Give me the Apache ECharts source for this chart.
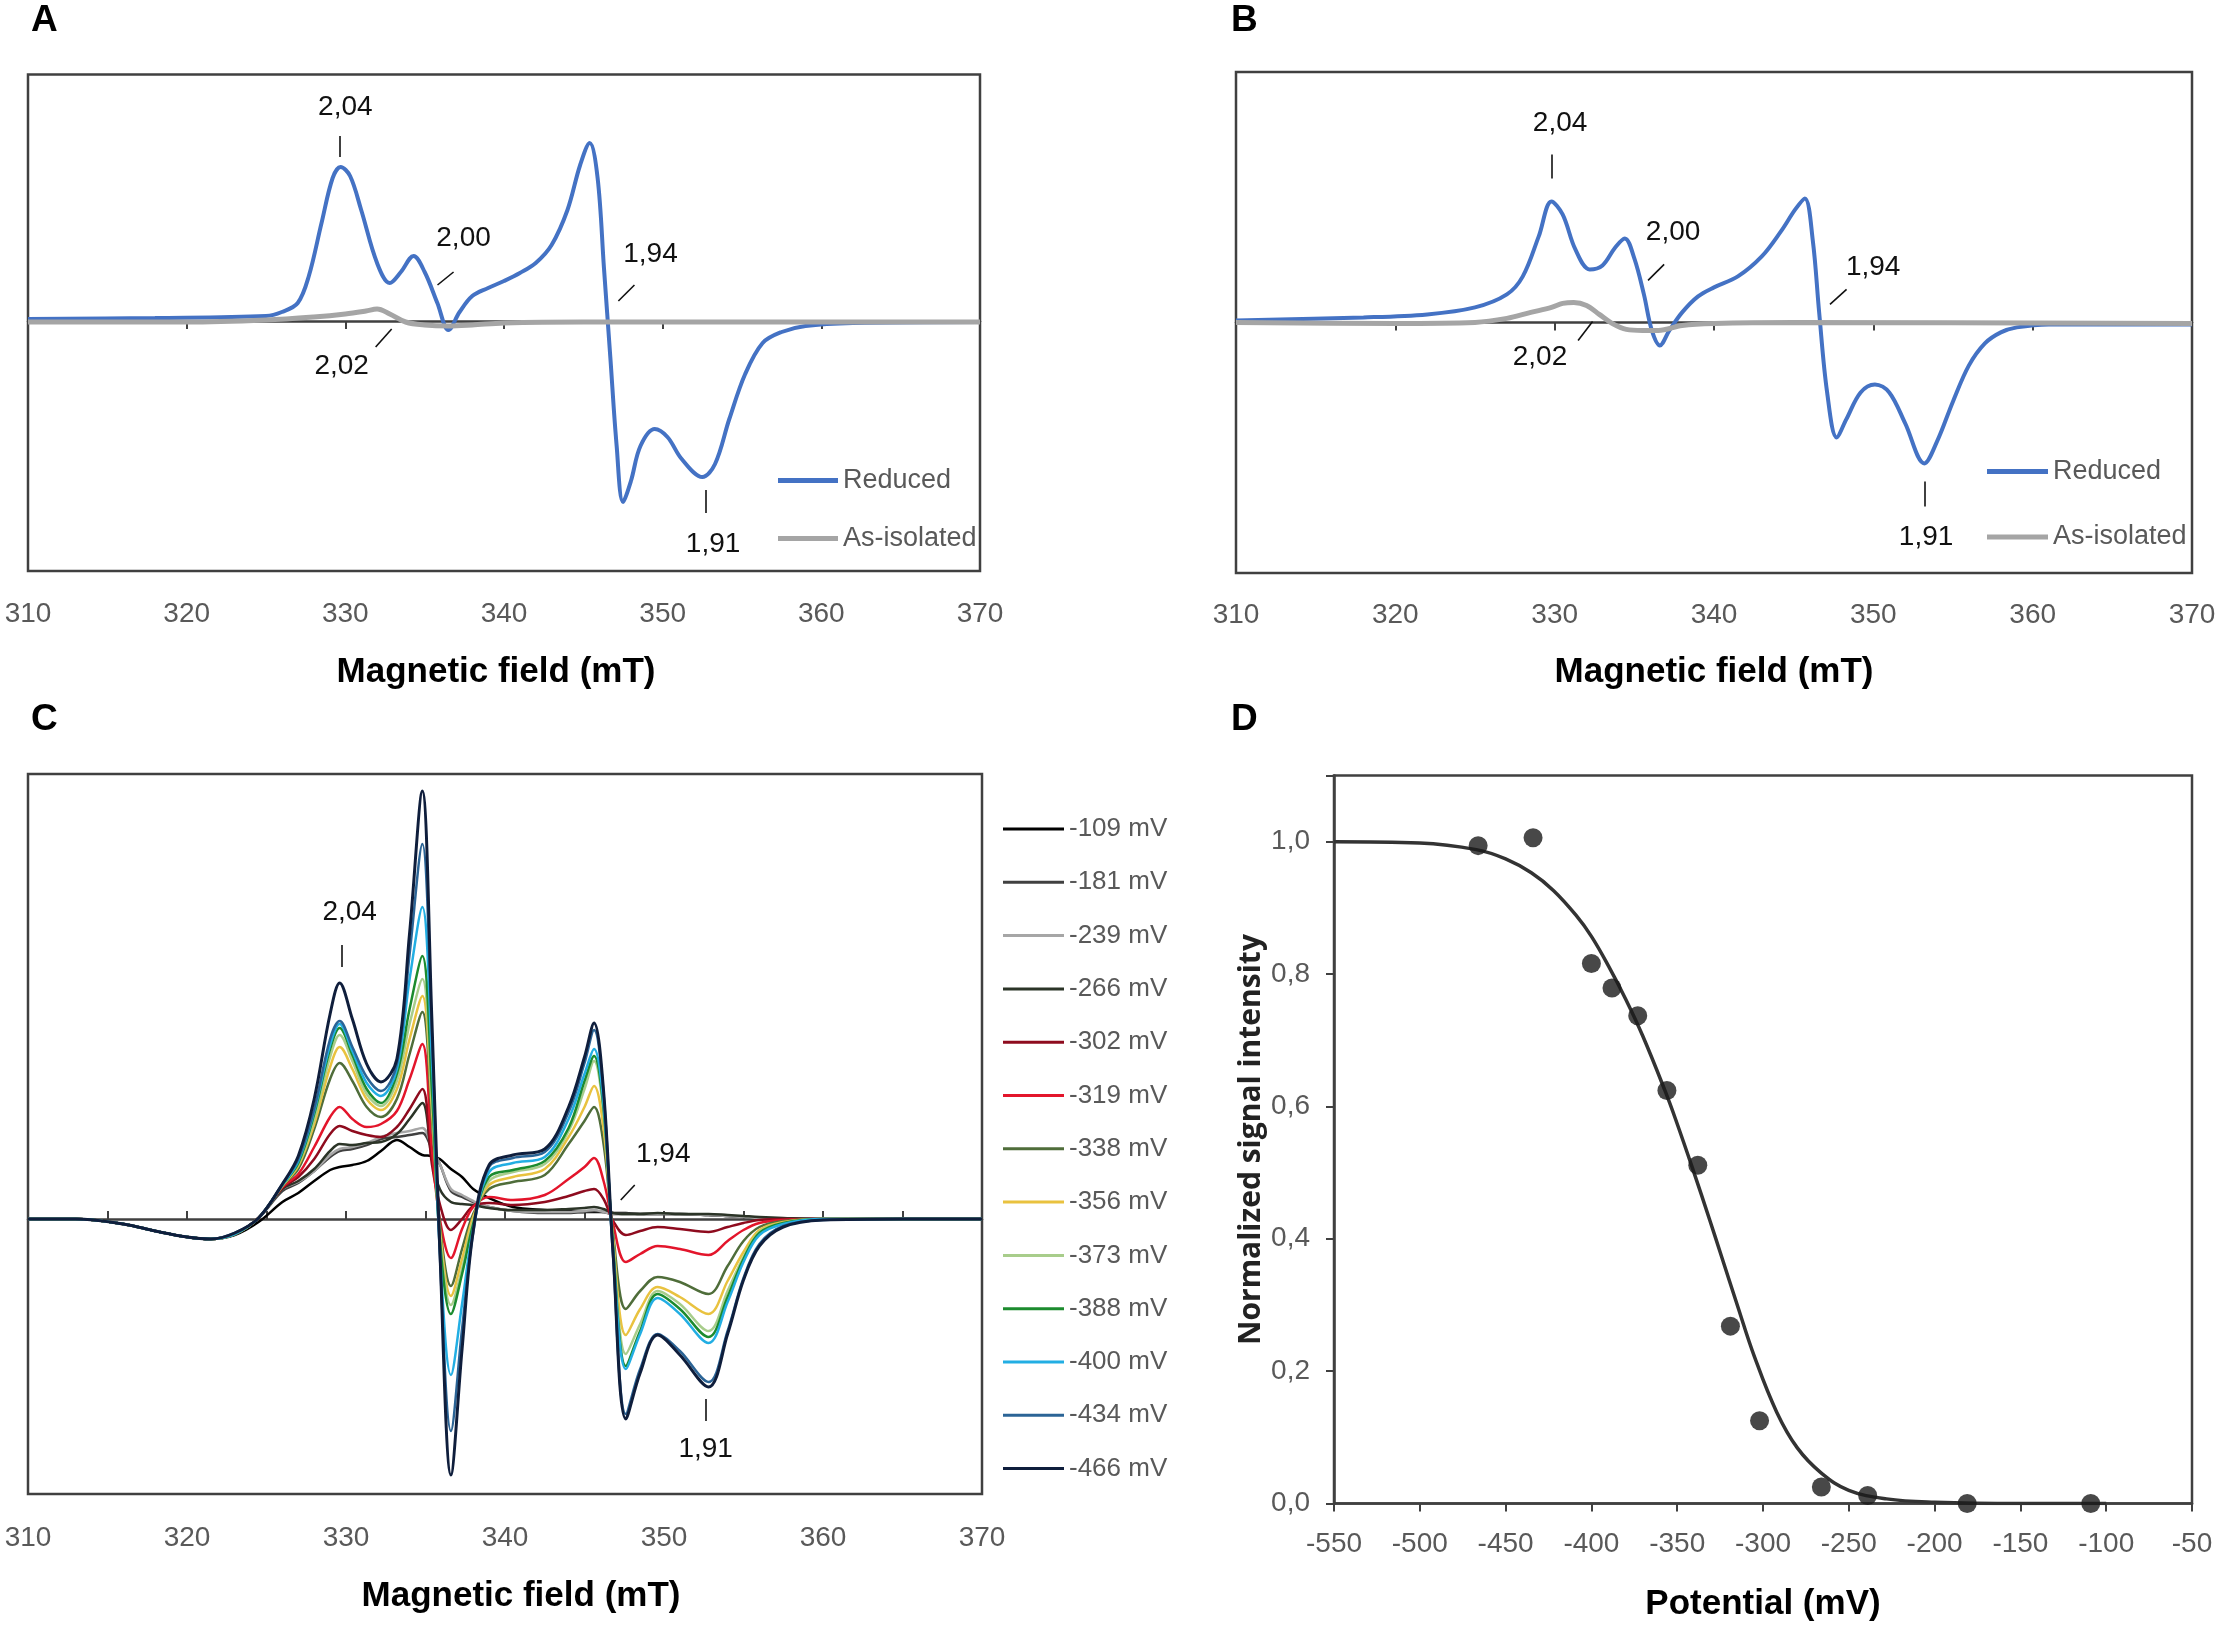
<!DOCTYPE html>
<html>
<head>
<meta charset="utf-8">
<title>EPR spectra and redox titration</title>
<script src="https://cdn.jsdelivr.net/npm/echarts@6.0.0/dist/echarts.min.js"></script>
<style>
  html, body { margin: 0; padding: 0; background: #ffffff; }
  #chart { width: 2226px; height: 1627px; }
</style>
</head>
<body>
<div id="chart"></div>
<script>
// ---------- panel A : spectra (mT, arbitrary units) ----------
var fieldA = [310, 318, 325, 326, 327, 327.7, 328.5, 329.2, 329.7, 330.3, 331, 332, 332.8, 333.5, 334.3, 335, 335.8, 336.5, 337.2, 338, 339, 340, 341, 342, 343, 344, 344.8, 345.4, 345.9, 346.3, 346.7, 347.1, 347.5, 348, 348.6, 349.5, 350.3, 351.2, 352.5, 353.3, 354.2, 355.2, 356.3, 357.5, 359, 362, 370];
var reducedA = [0.02, 0.03, 0.05, 0.09, 0.18, 0.45, 0.98, 1.43, 1.54, 1.45, 1.11, 0.58, 0.38, 0.49, 0.65, 0.49, 0.18, -0.09, 0.09, 0.25, 0.33, 0.40, 0.48, 0.58, 0.76, 1.11, 1.56, 1.78, 1.43, 0.53, -0.36, -1.25, -1.81, -1.60, -1.25, -1.08, -1.16, -1.38, -1.56, -1.43, -0.98, -0.53, -0.22, -0.11, -0.05, -0.02, -0.01];
var fieldAIso = [310, 320, 325, 328, 330, 331.3, 332, 332.8, 333.8, 335, 336.5, 338, 340, 345, 370];
var isolatedA = [-0.01, -0.01, 0.01, 0.04, 0.07, 0.10, 0.12, 0.07, -0.01, -0.04, -0.05, -0.04, -0.02, -0.01, -0.01];

// ---------- panel B ----------
var fieldB = [310, 318, 322, 325, 327, 328, 329, 329.8, 330.5, 331.3, 332.2, 333, 333.8, 334.4, 335, 335.6, 336.1, 336.6, 337.2, 338, 339, 340, 341.5, 343, 344.2, 345.1, 345.7, 346.2, 346.6, 347.1, 347.7, 348.3, 349.2, 350.1, 351, 352, 353.2, 354, 355, 356, 357, 358, 359, 361, 370];
var reducedB = [0.02, 0.05, 0.08, 0.15, 0.28, 0.46, 0.86, 1.21, 1.08, 0.73, 0.53, 0.57, 0.75, 0.84, 0.64, 0.28, -0.08, -0.23, -0.08, 0.10, 0.26, 0.35, 0.46, 0.66, 0.91, 1.13, 1.24, 0.82, 0.10, -0.70, -1.15, -0.97, -0.70, -0.62, -0.70, -1.01, -1.41, -1.19, -0.79, -0.43, -0.21, -0.10, -0.05, -0.02, -0.02];
var fieldBIso = [310, 320, 325, 327, 328.5, 329.8, 330.5, 331.2, 332, 332.8, 333.6, 334.5, 335.5, 336.5, 338, 340, 345, 370];
var isolatedB = [0, -0.01, 0, 0.04, 0.10, 0.15, 0.19, 0.20, 0.17, 0.08, -0.01, -0.07, -0.08, -0.08, -0.03, -0.01, 0, -0.01];

// ---------- panel C : spectra at each poised potential ----------
var fieldC = [310, 313, 316, 318, 320, 321.5, 323, 324.5, 326, 327, 328, 329, 329.6, 330.4, 331.3, 332.2, 333.2, 334, 334.8, 335.4, 335.9, 336.6, 337.3, 338, 339, 340.5, 342.5, 344, 345, 345.6, 346.2, 346.8, 347.6, 348.5, 349.6, 351, 352.8, 354, 355, 356, 357.5, 360, 365, 370];
var potentialLabels = ['-109 mV', '-181 mV', '-239 mV', '-266 mV', '-302 mV', '-319 mV', '-338 mV', '-356 mV', '-373 mV', '-388 mV', '-400 mV', '-434 mV', '-466 mV'];
var c109 = [0, 0, -0.05, -0.12, -0.18, -0.2, -0.16, -0.03, 0.17, 0.26, 0.38, 0.49, 0.52, 0.54, 0.58, 0.68, 0.79, 0.72, 0.64, 0.63, 0.60, 0.50, 0.42, 0.30, 0.21, 0.12, 0.09, 0.08, 0.07, 0.07, 0.07, 0.06, 0.06, 0.05, 0.05, 0.05, 0.04, 0.03, 0.02, 0.01, 0, 0, 0, 0];
var c181 = [0, 0, -0.05, -0.12, -0.18, -0.2, -0.15, 0.01, 0.28, 0.36, 0.48, 0.62, 0.68, 0.70, 0.74, 0.80, 0.82, 0.84, 0.86, 0.70, 0.55, 0.28, 0.22, 0.17, 0.12, 0.08, 0.06, 0.06, 0.07, 0.08, 0.07, 0.05, 0.05, 0.05, 0.05, 0.05, 0.04, 0.03, 0.02, 0.01, 0, 0, 0, 0];
var c239 = [0, 0, -0.05, -0.12, -0.18, -0.2, -0.15, 0.01, 0.30, 0.37, 0.48, 0.64, 0.70, 0.72, 0.76, 0.82, 0.86, 0.88, 0.91, 0.72, 0.55, 0.30, 0.24, 0.18, 0.12, 0.08, 0.07, 0.07, 0.08, 0.09, 0.07, 0.05, 0.05, 0.05, 0.05, 0.05, 0.04, 0.03, 0.02, 0.01, 0, 0, 0, 0];
var c266 = [0, 0, -0.05, -0.12, -0.18, -0.2, -0.15, 0.01, 0.30, 0.38, 0.50, 0.68, 0.75, 0.74, 0.76, 0.77, 0.85, 1.00, 1.16, 0.60, 0.30, 0.17, 0.15, 0.14, 0.11, 0.09, 0.09, 0.10, 0.11, 0.12, 0.10, 0.06, 0.05, 0.05, 0.06, 0.05, 0.05, 0.04, 0.03, 0.02, 0.01, 0, 0, 0];
var c302 = [0, 0, -0.05, -0.12, -0.18, -0.2, -0.15, 0.01, 0.31, 0.42, 0.60, 0.85, 0.93, 0.88, 0.84, 0.82, 0.92, 1.10, 1.30, 0.55, 0.15, -0.11, 0.00, 0.13, 0.16, 0.14, 0.17, 0.23, 0.28, 0.30, 0.20, -0.02, -0.16, -0.12, -0.08, -0.10, -0.13, -0.08, -0.04, -0.01, 0, 0, 0, 0];
var c319 = [0, 0, -0.05, -0.12, -0.18, -0.2, -0.15, 0.01, 0.32, 0.45, 0.72, 1.02, 1.12, 1.00, 0.92, 0.95, 1.08, 1.40, 1.75, 0.70, 0.00, -0.39, -0.10, 0.12, 0.22, 0.19, 0.24, 0.40, 0.52, 0.61, 0.38, -0.05, -0.43, -0.35, -0.27, -0.30, -0.36, -0.22, -0.11, -0.04, -0.01, 0, 0, 0];
var c338 = [0, 0, -0.05, -0.12, -0.18, -0.2, -0.15, 0.01, 0.33, 0.50, 0.90, 1.40, 1.56, 1.38, 1.12, 1.02, 1.20, 1.65, 2.07, 1.00, -0.05, -0.67, -0.30, 0.05, 0.30, 0.37, 0.44, 0.75, 0.98, 1.12, 0.75, -0.15, -0.90, -0.72, -0.58, -0.63, -0.75, -0.47, -0.22, -0.08, -0.02, 0, 0, 0];
var c356 = [0, 0, -0.05, -0.12, -0.18, -0.2, -0.15, 0.01, 0.33, 0.53, 0.95, 1.52, 1.72, 1.50, 1.20, 1.09, 1.30, 1.80, 2.23, 1.10, -0.10, -0.77, -0.40, 0.02, 0.34, 0.42, 0.50, 0.82, 1.12, 1.33, 0.90, -0.20, -1.16, -0.90, -0.68, -0.78, -0.95, -0.62, -0.33, -0.11, -0.03, 0, 0, 0];
var c373 = [0, 0, -0.05, -0.12, -0.18, -0.2, -0.15, 0.01, 0.34, 0.55, 1.00, 1.62, 1.84, 1.58, 1.25, 1.13, 1.38, 1.95, 2.40, 1.20, -0.15, -0.86, -0.50, -0.02, 0.38, 0.47, 0.55, 0.88, 1.30, 1.58, 1.05, -0.25, -1.35, -1.05, -0.72, -0.85, -1.12, -0.72, -0.38, -0.13, -0.04, 0, 0, 0];
var c388 = [0, 0, -0.05, -0.12, -0.18, -0.2, -0.15, 0.01, 0.34, 0.56, 1.05, 1.70, 1.91, 1.64, 1.30, 1.16, 1.45, 2.10, 2.63, 1.30, -0.20, -0.95, -0.55, -0.05, 0.42, 0.49, 0.58, 0.91, 1.38, 1.63, 1.10, -0.28, -1.47, -1.12, -0.75, -0.90, -1.18, -0.78, -0.40, -0.14, -0.04, 0, 0, 0];
var c400 = [0, 0, -0.05, -0.12, -0.18, -0.2, -0.15, 0.01, 0.34, 0.58, 1.08, 1.74, 1.95, 1.68, 1.36, 1.23, 1.50, 2.40, 3.12, 1.60, -0.30, -1.56, -0.85, -0.10, 0.47, 0.56, 0.62, 1.00, 1.45, 1.70, 1.15, -0.32, -1.50, -1.15, -0.79, -0.95, -1.24, -0.83, -0.43, -0.16, -0.05, 0, 0, 0];
var c434 = [0, 0, -0.05, -0.12, -0.18, -0.2, -0.14, 0.01, 0.35, 0.60, 1.10, 1.80, 1.98, 1.72, 1.42, 1.28, 1.55, 2.65, 3.75, 1.85, -0.35, -2.12, -1.10, -0.14, 0.52, 0.61, 0.67, 1.07, 1.56, 1.89, 1.25, -0.38, -1.95, -1.50, -1.15, -1.32, -1.63, -1.12, -0.59, -0.25, -0.07, -0.01, 0, 0];
var c466 = [0, 0, -0.05, -0.12, -0.18, -0.2, -0.14, 0.01, 0.35, 0.63, 1.20, 2.05, 2.36, 2.00, 1.55, 1.37, 1.60, 2.86, 4.28, 2.00, -0.30, -2.56, -1.30, -0.12, 0.54, 0.64, 0.70, 1.12, 1.62, 1.96, 1.28, -0.35, -2.00, -1.54, -1.16, -1.36, -1.68, -1.15, -0.61, -0.27, -0.08, -0.01, 0, 0];
var spectraC = [c109, c181, c239, c266, c302, c319, c338, c356, c373, c388, c400, c434, c466];

// ---------- panel D : redox titration ----------
var potentials = [-466, -434, -400, -388, -373, -356, -338, -319, -302, -266, -239, -181, -109];
var intensity = [0.994, 1.006, 0.816, 0.779, 0.737, 0.624, 0.511, 0.268, 0.125, 0.025, 0.012, 0.0, 0.0];
var fitPotential = [-550, -500, -467, -450, -435, -422, -409, -400, -390, -380, -370, -357, -351, -341, -331, -325, -315, -305, -292, -280, -266, -250, -228, -200, -150, -100];
var fitIntensity = [1.0, 0.998, 0.988, 0.974, 0.953, 0.926, 0.889, 0.857, 0.812, 0.762, 0.706, 0.623, 0.581, 0.506, 0.428, 0.380, 0.300, 0.222, 0.138, 0.084, 0.046, 0.020, 0.007, 0.002, 0.0, 0.0];

// g-value labels: text position and leader segment, in data units
var gLabelsA = [
    {text: '2,04', at: [330.0, 2.14], tick: [[329.66, 1.85], [329.66, 1.64]]},
    {text: '2,00', at: [337.45, 0.83], tick: [[336.82, 0.49], [335.81, 0.36]]},
    {text: '1,94', at: [349.23, 0.67], tick: [[348.22, 0.36], [347.21, 0.20]]},
    {text: '2,02', at: [329.77, -0.45], tick: [[332.92, -0.08], [331.91, -0.26]]},
    {text: '1,91', at: [353.18, -2.23], tick: [[352.7, -1.69], [352.7, -1.92]]}
];
var gLabelsB = [
    {text: '2,04', at: [330.34, 1.99], tick: [[329.84, 1.68], [329.84, 1.44]]},
    {text: '2,00', at: [337.43, 0.90], tick: [[336.87, 0.58], [335.86, 0.42]]},
    {text: '1,94', at: [349.99, 0.55], tick: [[348.32, 0.33], [347.28, 0.18]]},
    {text: '2,02', at: [329.08, -0.35], tick: [[332.38, 0.01], [331.47, -0.18]]},
    {text: '1,91', at: [353.31, -2.15], tick: [[353.25, -1.59], [353.25, -1.84]]}
];
var gLabelsC = [
    {text: '2,04', at: [330.23, 3.07], tick: [[329.76, 2.74], [329.76, 2.52]]},
    {text: '1,94', at: [349.95, 0.65], tick: [[348.16, 0.34], [347.28, 0.19]]},
    {text: '1,91', at: [352.62, -2.30], tick: [[352.62, -1.80], [352.62, -2.02]]}
];

var colorsC = ['#000000', '#404040', '#a6a6a6', '#2b3427', '#8e0b1e', '#e3152b', '#4f6d3a', '#e9c23f', '#a8cd8b', '#1c8b2e', '#22aee3', '#2b6496', '#0f1e3c'];

var SANS = "'Liberation Sans', Arial, sans-serif";
var AXIS_COLOR = '#404040';
var LABEL_COLOR = '#595959';

function pairs(xs, ys) {
    return xs.map(function (x, i) { return [x, ys[i]]; });
}

//标注 g 值：文字 + 引线
function gMarks(list) {
    return {
        markPoint: {
            silent: true,
            symbol: 'circle',
            symbolSize: 2,
            itemStyle: {color: 'rgba(0,0,0,0)'},
            label: {show: true, position: 'inside', formatter: '{b}', fontSize: 28, fontFamily: SANS, color: '#111111'},
            data: list.map(function (g) { return {name: g.text, coord: g.at}; })
        },
        markLine: {
            silent: true,
            symbol: ['none', 'none'],
            label: {show: false},
            lineStyle: {color: '#111111', width: 1.6, type: 'solid'},
            data: list.map(function (g) { return [{coord: g.tick[0]}, {coord: g.tick[1]}]; })
        }
    };
}

function fieldAxis(gridIndex, margin, gap, inside, step) {
    return {
        type: 'value', gridIndex: gridIndex, min: 310, max: 370, interval: step,
        name: 'Magnetic field (mT)', nameLocation: 'middle', nameGap: gap,
        nameTextStyle: {fontSize: 35, fontWeight: 'bold', fontFamily: SANS, color: '#000'},
        axisLine: {show: true, lineStyle: {color: AXIS_COLOR, width: 2.5}},
        axisTick: {show: true, inside: inside, length: 8, lineStyle: {color: AXIS_COLOR, width: 2}},
        axisLabel: {
            margin: margin, fontSize: 28, fontFamily: SANS, color: LABEL_COLOR,
            formatter: function (v) { return v % 10 === 0 ? String(v) : ''; }
        },
        splitLine: {show: false}
    };
}

function boxGrid(left, top, width, height) {
    return {left: left, top: top, width: width, height: height, show: true,
        borderColor: AXIS_COLOR, borderWidth: 2.5, backgroundColor: 'transparent'};
}

function panelTitle(text, left, top) {
    return {text: text, left: left, top: top, padding: 0,
        textStyle: {fontSize: 37, fontWeight: 'bold', fontFamily: SANS, color: '#000'}};
}

function spectrumLine(name, xs, ys, xi, color, width, extra) {
    var s = {
        name: name, type: 'line', xAxisIndex: xi, yAxisIndex: xi,
        data: pairs(xs, ys), symbol: 'none', showSymbol: false,
        smooth: 0.35, lineStyle: {color: color, width: width}, itemStyle: {color: color},
        silent: true, z: 2
    };
    return Object.assign(s, extra || {});
}

var legendText = {fontSize: 27, fontFamily: SANS, color: LABEL_COLOR};

var series = [
    spectrumLine('Reduced', fieldA, reducedA, 0, '#4472c4', 4, gMarks(gLabelsA)),
    spectrumLine('As-isolated', fieldAIso, isolatedA, 0, '#a5a5a5', 5),
    spectrumLine('Reduced', fieldB, reducedB, 1, '#4472c4', 4, gMarks(gLabelsB)),
    spectrumLine('As-isolated', fieldBIso, isolatedB, 1, '#a5a5a5', 5)
];
spectraC.forEach(function (ys, i) {
    var last = i === spectraC.length - 1;
    series.push(spectrumLine(potentialLabels[i], fieldC, ys, 2, colorsC[i], last ? 3 : 2.5, last ? gMarks(gLabelsC) : null));
});
series.push({
    name: 'fit', type: 'line', xAxisIndex: 3, yAxisIndex: 3,
    data: pairs(fitPotential, fitIntensity), symbol: 'none', smooth: 0.4,
    lineStyle: {color: '#333333', width: 3.5}, silent: true
});
series.push({
    name: 'data', type: 'scatter', xAxisIndex: 3, yAxisIndex: 3,
    data: pairs(potentials, intensity), symbol: 'circle', symbolSize: 19,
    itemStyle: {color: '#1a1a1a'}, silent: true, z: 3
});

var xA = fieldAxis(0, 29, 84, false, 10);
xA.nameTextStyle.padding = [0, 16, 0, 0];
var xB = fieldAxis(1, 28, 82, false, 10);
var xC = fieldAxis(2, 30, 85, true, 5);
xC.nameTextStyle.padding = [0, 0, 0, 32];

var option = {
    animation: false,
    backgroundColor: '#ffffff',
    title: [
        panelTitle('A', 31, 2),
        panelTitle('B', 1231, 2),
        panelTitle('C', 31, 701),
        panelTitle('D', 1231, 701)
    ],
    legend: [
        {data: ['Reduced', 'As-isolated'], left: 778, top: 467, orient: 'vertical', padding: 0,
            icon: 'rect', itemWidth: 60, itemHeight: 5, itemGap: 31, selectedMode: false, textStyle: legendText},
        {data: ['Reduced', 'As-isolated'], left: 1987, top: 458, orient: 'vertical', padding: 0,
            icon: 'rect', itemWidth: 61, itemHeight: 5, itemGap: 38.5, selectedMode: false, textStyle: legendText},
        {data: potentialLabels, left: 1003, top: 816, orient: 'vertical', padding: 0,
            icon: 'rect', itemWidth: 61, itemHeight: 3, itemGap: 27.3, selectedMode: false,
            textStyle: {fontSize: 26, fontFamily: SANS, color: LABEL_COLOR}}
    ],
    grid: [
        boxGrid(28, 74.5, 952, 496.5),
        boxGrid(1236, 72, 956, 501),
        boxGrid(28, 774, 954, 720),
        boxGrid(1334, 775.5, 858, 728)
    ],
    xAxis: [
        xA,
        xB,
        xC,
        {
            type: 'value', gridIndex: 3, min: -550, max: -50, interval: 50,
            name: 'Potential (mV)', nameLocation: 'middle', nameGap: 83,
            nameTextStyle: {fontSize: 35, fontWeight: 'bold', fontFamily: SANS, color: '#000'},
            axisLine: {show: true, lineStyle: {color: AXIS_COLOR, width: 2.5}},
            axisTick: {show: true, length: 8, lineStyle: {color: AXIS_COLOR, width: 2}},
            axisLabel: {margin: 27, fontSize: 28, fontFamily: SANS, color: LABEL_COLOR},
            splitLine: {show: false}
        }
    ],
    yAxis: [
        {type: 'value', gridIndex: 0, min: -2.50, max: 2.465, show: false},
        {type: 'value', gridIndex: 1, min: -2.506, max: 2.504, show: false},
        {type: 'value', gridIndex: 2, min: -2.75, max: 4.45, show: false},
        {
            type: 'value', gridIndex: 3, min: 0, max: 1.1, interval: 0.2,
            name: 'Normalized signal intensity', nameLocation: 'middle', nameGap: 68,
            nameTextStyle: {fontSize: 30, fontWeight: 'bold', fontFamily: "'Open Sans', sans-serif", color: '#222'},
            axisLine: {show: true, lineStyle: {color: AXIS_COLOR, width: 2.5}},
            axisTick: {show: true, length: 8, lineStyle: {color: AXIS_COLOR, width: 2}},
            axisLabel: {
                margin: 24, fontSize: 28, fontFamily: SANS, color: LABEL_COLOR,
                formatter: function (v) { return v > 1.05 ? '' : v.toFixed(1).replace('.', ','); }
            },
            splitLine: {show: false}
        }
    ],
    series: series
};

var chart = echarts.init(document.getElementById('chart'));
chart.setOption(option);
</script>
</body>
</html>
